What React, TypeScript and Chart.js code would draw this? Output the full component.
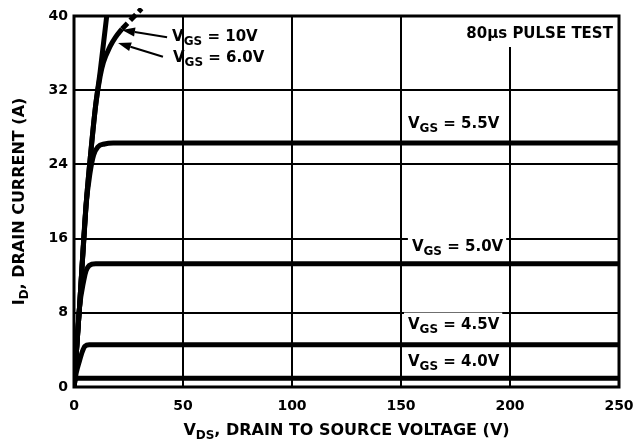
import React, { useEffect, useRef } from "react";
import { Chart, registerables } from "chart.js";

Chart.register(...registerables);

// Axis ticks
const xTicks = [0, 50, 100, 150, 200, 250];
const yTicks = [0, 8, 16, 24, 32, 40];

// Curves: V_DS (V) and I_D (A)
const vgs10V = [0, 2.5, 5.5, 8, 10, 12, 15.5];
const vgs10I = [0, 8.5, 19.5, 26, 30.5, 34, 41];

const vgs6V = [0, 2.5, 5.5, 8, 10, 12, 13.5, 16.5, 19, 22];
const vgs6I = [0, 8.5, 19.5, 26, 30.5, 33.5, 35, 36.7, 37.7, 38.6];

const vgs6DashV = [22, 31];
const vgs6DashI = [38.6, 40.8];

const vgs55V = [0, 2.5, 5.5, 7.3, 9, 11, 14, 18, 250];
const vgs55I = [0, 8.5, 19.5, 23, 25, 25.9, 26.2, 26.3, 26.3];

const vgs50V = [0, 2.5, 4.5, 5.5, 7, 10, 250];
const vgs50I = [0, 8.5, 11.5, 12.5, 13.1, 13.3, 13.3];

const vgs45V = [0, 1, 2.5, 3.8, 5, 7, 250];
const vgs45I = [0, 1.5, 2.8, 3.8, 4.4, 4.55, 4.55];

const vgs40V = [0, 0.6, 2, 250];
const vgs40I = [0, 0.8, 0.95, 0.95];

const curveLabels = ["10V", "6.0V", "5.5V", "5.0V", "4.5V", "4.0V"];
const noteText = "80\u00b5s PULSE TEST";
const xTitle = [{ t: "V" }, { t: "DS", sub: true }, { t: ", DRAIN TO SOURCE VOLTAGE (V)" }];
const yTitle = [{ t: "I" }, { t: "D", sub: true }, { t: ", DRAIN CURRENT (A)" }];

const pts = (xs: number[], ys: number[]) => xs.map((x, i) => ({ x, y: ys[i] }));

const FONT = "DejaVu Sans";

type Part = { t: string; sub?: boolean };

function measureParts(ctx: CanvasRenderingContext2D, parts: Part[], main: string, sub: string) {
  let w = 0;
  for (const p of parts) {
    ctx.font = p.sub ? sub : main;
    w += ctx.measureText(p.t).width;
  }
  return w;
}

function drawParts(
  ctx: CanvasRenderingContext2D,
  parts: Part[],
  x: number,
  y: number,
  main: string,
  sub: string,
  align: "left" | "center" | "right"
) {
  const w = measureParts(ctx, parts, main, sub);
  let cx = align === "right" ? x - w : align === "center" ? x - w / 2 : x;
  ctx.textAlign = "left";
  ctx.textBaseline = "alphabetic";
  for (const p of parts) {
    ctx.font = p.sub ? sub : main;
    ctx.fillText(p.t, cx, p.sub ? y + 4 : y);
    cx += ctx.measureText(p.t).width;
  }
  return w;
}

// Label placement in data units (layout only)
const labelLayout = [
  { i: 0, x: 45.0, y: 37.3 },
  { i: 1, x: 45.4, y: 35.0 },
  { i: 2, x: 153.2, y: 27.9 },
  { i: 3, x: 155.0, y: 14.7 },
  { i: 4, x: 153.2, y: 6.3 },
  { i: 5, x: 153.2, y: 2.3 },
];
const arrowLayout = [
  { x0: 42.7, y0: 37.7, x1: 22.0, y1: 38.5 },
  { x0: 40.8, y0: 35.6, x1: 20.2, y1: 37.1 },
];

const MAIN_FONT = `bold 15px "${FONT}"`;
const SUB_FONT = `bold 12px "${FONT}"`;

const annotationPlugin = {
  id: "annot",
  beforeDatasetsDraw(chart: any) {
    const ctx: CanvasRenderingContext2D = chart.ctx;
    const xs = chart.scales.x;
    const ys = chart.scales.y;
    ctx.save();
    ctx.fillStyle = "#fff";
    for (const l of labelLayout) {
      if (l.i < 2) continue;
      const parts: Part[] = [{ t: "V" }, { t: "GS", sub: true }, { t: " = " + curveLabels[l.i] }];
      const w = measureParts(ctx, parts, MAIN_FONT, SUB_FONT);
      const px = xs.getPixelForValue(l.x);
      const py = ys.getPixelForValue(l.y);
      ctx.fillRect(px - 4, py - 16, w + 7, 25);
    }
    // note box
    {
      ctx.font = MAIN_FONT;
      const w = ctx.measureText(noteText).width;
      const px = xs.getPixelForValue(247.2);
      const top = chart.chartArea.top;
      ctx.fillRect(px - w - 5, top, w + 8, 31);
    }
    ctx.restore();
  },
  afterDatasetsDraw(chart: any) {
    const ctx: CanvasRenderingContext2D = chart.ctx;
    const xs = chart.scales.x;
    const ys = chart.scales.y;
    const ca = chart.chartArea;
    ctx.save();
    // frame
    ctx.strokeStyle = "#000";
    ctx.lineWidth = 3;
    ctx.strokeRect(ca.left, ca.top, ca.right - ca.left, ca.bottom - ca.top);

    ctx.fillStyle = "#000";
    for (const l of labelLayout) {
      const parts: Part[] = [{ t: "V" }, { t: "GS", sub: true }, { t: " = " + curveLabels[l.i] }];
      drawParts(ctx, parts, xs.getPixelForValue(l.x), ys.getPixelForValue(l.y), MAIN_FONT, SUB_FONT, "left");
    }
    ctx.font = MAIN_FONT;
    ctx.textAlign = "right";
    ctx.textBaseline = "alphabetic";
    ctx.fillText(noteText, xs.getPixelForValue(247.2), ys.getPixelForValue(37.6));

    // arrows
    ctx.lineWidth = 2;
    for (const a of arrowLayout) {
      const x0 = xs.getPixelForValue(a.x0);
      const y0 = ys.getPixelForValue(a.y0);
      const x1 = xs.getPixelForValue(a.x1);
      const y1 = ys.getPixelForValue(a.y1);
      const ang = Math.atan2(y1 - y0, x1 - x0);
      const hl = 13;
      const hw = 4.5;
      const bx = x1 - hl * Math.cos(ang);
      const by = y1 - hl * Math.sin(ang);
      ctx.beginPath();
      ctx.moveTo(x0, y0);
      ctx.lineTo(bx, by);
      ctx.stroke();
      ctx.beginPath();
      ctx.moveTo(x1, y1);
      ctx.lineTo(bx + hw * Math.sin(ang), by - hw * Math.cos(ang));
      ctx.lineTo(bx - hw * Math.sin(ang), by + hw * Math.cos(ang));
      ctx.closePath();
      ctx.fill();
    }

    // axis titles
    const tMain = `bold 16px "${FONT}"`;
    const tSub = `bold 12px "${FONT}"`;
    drawParts(ctx, xTitle, (ca.left + ca.right) / 2, 435, tMain, tSub, "center");
    ctx.translate(23.5, (ca.top + ca.bottom) / 2);
    ctx.rotate(-Math.PI / 2);
    drawParts(ctx, yTitle, 0, 0, tMain, tSub, "center");
    ctx.restore();
  },
};

export default function App() {
  const ref = useRef<HTMLCanvasElement | null>(null);
  useEffect(() => {
    document.body.style.margin = "0";
    if (!ref.current) return;
    const line = (data: any[], extra: any = {}) => ({
      type: "line" as const,
      data,
      borderColor: "#000",
      backgroundColor: "#000",
      borderWidth: 5,
      pointRadius: 0,
      fill: false,
      cubicInterpolationMode: "monotone" as const,
      ...extra,
    });
    const chart = new Chart(ref.current, {
      type: "line",
      data: {
        datasets: [
          line(pts(vgs10V, vgs10I)),
          line(pts(vgs6V, vgs6I)),
          line(pts(vgs6DashV, vgs6DashI), { borderDash: [8, 4], clip: 8 }),
          line(pts(vgs55V, vgs55I)),
          line(pts(vgs50V, vgs50I)),
          line(pts(vgs45V, vgs45I)),
          line(pts(vgs40V, vgs40I)),
        ],
      },
      options: {
        animation: false,
        responsive: false,
        devicePixelRatio: 1,
        layout: { padding: { top: 16, right: 16, left: 0, bottom: 0 } },
        plugins: { legend: { display: false }, tooltip: { enabled: false } },
        scales: {
          x: {
            type: "linear",
            min: 0,
            max: 250,
            afterBuildTicks: (s: any) => {
              s.ticks = xTicks.map((v) => ({ value: v }));
            },
            afterFit: (s: any) => {
              s.height = 56;
              s.paddingLeft = 0;
              s.paddingRight = 0;
            },
            grid: { color: "#000", lineWidth: 2, drawTicks: false },
            border: { display: false },
            ticks: {
              color: "#000",
              padding: 11,
              maxRotation: 0,
              font: { family: FONT, weight: "bold", size: 14 },
            },
          },
          y: {
            type: "linear",
            min: 0,
            max: 40,
            afterBuildTicks: (s: any) => {
              s.ticks = yTicks.map((v) => ({ value: v }));
            },
            afterFit: (s: any) => {
              s.width = 74;
              s.paddingTop = 0;
              s.paddingBottom = 0;
            },
            grid: { color: "#000", lineWidth: 2, drawTicks: false },
            border: { display: false },
            ticks: {
              color: "#000",
              padding: 6,
              font: { family: FONT, weight: "bold", size: 14 },
            },
          },
        },
      } as any,
      plugins: [annotationPlugin],
    });
    return () => chart.destroy();
  }, []);
  return (
    <div style={{ width: 635, height: 443 }}>
      <canvas ref={ref} width={635} height={443} />
    </div>
  );
}
